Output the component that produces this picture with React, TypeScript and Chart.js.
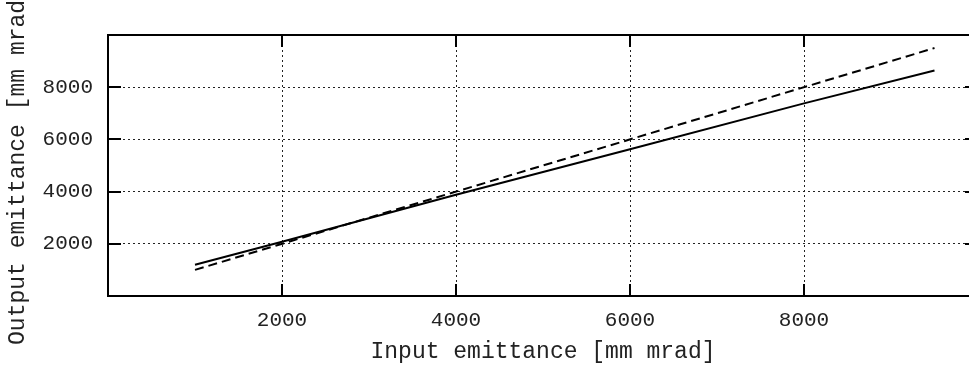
import React, { useEffect, useRef } from "react";
import { Chart, registerables } from "chart.js";

Chart.register(...registerables);

// Data
const SOLID_X = [1000, 2000, 4000, 6000, 8000, 9500];
const SOLID_Y = [1200, 2080, 3880, 5620, 7380, 8640];
const DASHED_X = [1000, 9500];
const DASHED_Y = [1000, 9500];
const X_TICKS = [2000, 4000, 6000, 8000];
const Y_TICKS = [2000, 4000, 6000, 8000];
const X_TITLE = "Input emittance [mm mrad]";
const Y_TITLE = "Output emittance [mm mrad]";

const FONT = "'Liberation Mono', 'DejaVu Sans Mono', monospace";
const TEXT_COLOR = "#222";

const framePlugin = {
  id: "frame",
  afterDraw(chart: any) {
    const { ctx, chartArea } = chart;
    const { left, right, top, bottom } = chartArea;
    const xs = chart.scales.x;
    const ys = chart.scales.y;
    ctx.save();
    ctx.strokeStyle = "#000";
    ctx.lineWidth = 2;
    ctx.setLineDash([]);
    ctx.strokeRect(left, top, right - left, bottom - top);
    ctx.beginPath();
    for (const v of X_TICKS) {
      const px = Math.round(xs.getPixelForValue(v));
      ctx.moveTo(px, bottom);
      ctx.lineTo(px, bottom - 12);
      ctx.moveTo(px, top);
      ctx.lineTo(px, top + 12);
    }
    for (const v of Y_TICKS) {
      const py = Math.round(ys.getPixelForValue(v));
      ctx.moveTo(left, py);
      ctx.lineTo(left + 13, py);
      ctx.moveTo(right, py);
      ctx.lineTo(right - 13, py);
    }
    ctx.stroke();
    ctx.restore();
  },
};

export default function App() {
  const ref = useRef<HTMLCanvasElement | null>(null);

  useEffect(() => {
    if (!ref.current) return;
    const solid = SOLID_X.map((x, i) => ({ x, y: SOLID_Y[i] }));
    const dashed = DASHED_X.map((x, i) => ({ x, y: DASHED_Y[i] }));
    const tickCb = (v: any) => (X_TICKS.includes(Number(v)) ? String(v) : null);
    const tickCbY = (v: any) => (Y_TICKS.includes(Number(v)) ? String(v) : null);
    const chart = new Chart(ref.current, {
      type: "line",
      data: {
        datasets: [
          {
            data: solid,
            borderColor: "#000",
            borderWidth: 2,
            pointRadius: 0,
            tension: 0,
            fill: false,
          },
          {
            data: dashed,
            borderColor: "#000",
            borderWidth: 2,
            borderDash: [9, 5],
            pointRadius: 0,
            tension: 0,
            fill: false,
          },
        ],
      },
      options: {
        animation: false,
        responsive: false,
        devicePixelRatio: 1,
        layout: { padding: { top: 35, right: 12, left: 0, bottom: 0 } },
        plugins: {
          legend: { display: false },
          tooltip: { enabled: false },
        },
        scales: {
          x: {
            type: "linear",
            min: 0,
            max: 10000,
            afterFit: (s: any) => {
              s.height = 74;
            },
            ticks: {
              stepSize: 2000,
              callback: tickCb,
              color: TEXT_COLOR,
              padding: 12,
              maxRotation: 0,
              font: { family: FONT, size: 21 },
            },
            grid: {
              color: "#222",
              lineWidth: 1,
              drawTicks: false,
            },
            border: { display: false, dash: [2, 3] },
            title: {
              display: true,
              text: X_TITLE,
              color: TEXT_COLOR,
              font: { family: FONT, size: 23 },
              padding: { top: 0, bottom: 4 },
            },
          },
          y: {
            type: "linear",
            min: 0,
            max: 10000,
            afterFit: (s: any) => {
              s.width = 108;
            },
            ticks: {
              stepSize: 2000,
              callback: tickCbY,
              color: TEXT_COLOR,
              padding: 15,
              font: { family: FONT, size: 21 },
            },
            grid: {
              color: "#222",
              lineWidth: 1,
              drawTicks: false,
            },
            border: { display: false, dash: [2, 3] },
            title: {
              display: true,
              text: Y_TITLE,
              color: TEXT_COLOR,
              font: { family: FONT, size: 23 },
              padding: { top: 4, bottom: 0 },
            },
          },
        },
      },
      plugins: [framePlugin],
    });
    return () => chart.destroy();
  }, []);

  return (
    <div
      style={{
        position: "fixed",
        left: 0,
        top: 0,
        width: 969,
        height: 370,
        overflow: "hidden",
        background: "#fff",
      }}
    >
      <canvas
        ref={ref}
        width={990}
        height={370}
        style={{ display: "block", width: 990, height: 370 }}
      />
    </div>
  );
}
